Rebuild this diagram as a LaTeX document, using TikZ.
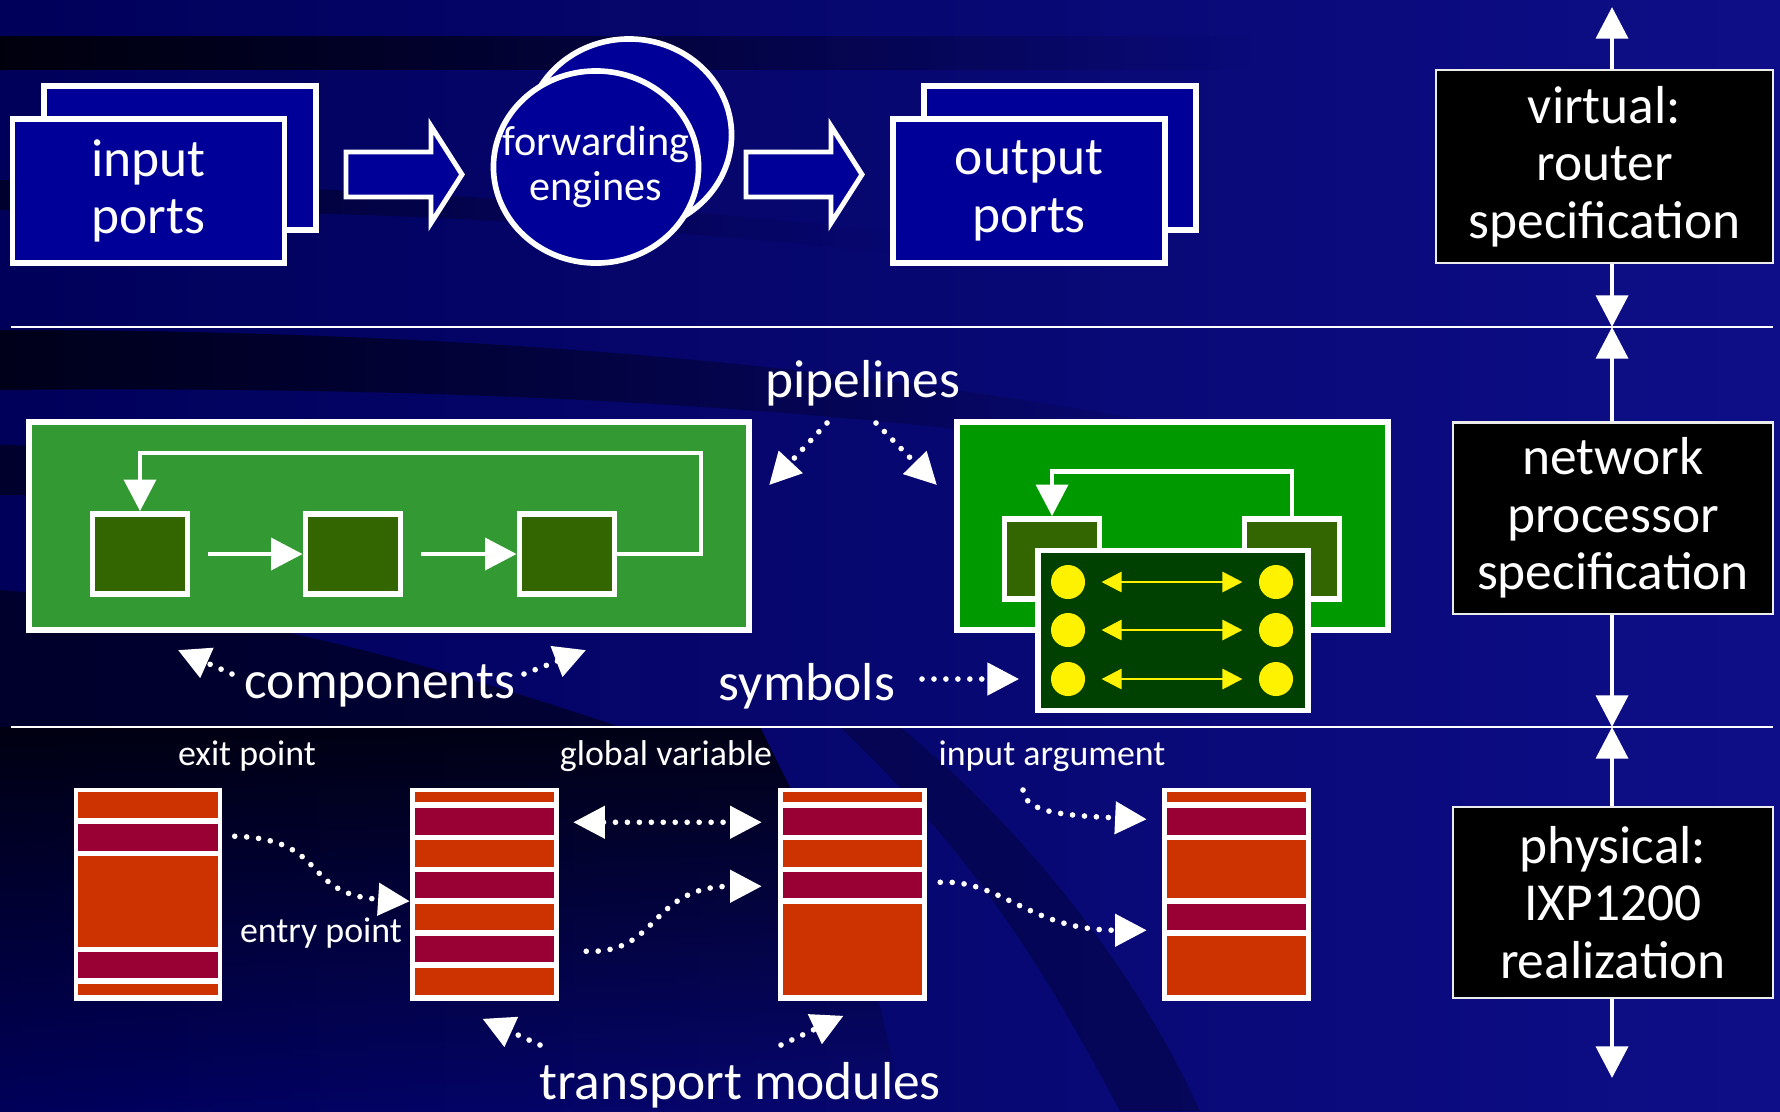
\documentclass[tikz,border=0pt]{standalone}
\usepackage{fontspec}
\setmainfont{Carlito}
\usetikzlibrary{arrows.meta,shapes.geometric,fadings}

\definecolor{fundo}{HTML}{00005A}
\definecolor{fundoclaro}{HTML}{0E0E88}
\definecolor{azulporta}{HTML}{000099}
\definecolor{verdepipe}{HTML}{339933}
\definecolor{verdepipeb}{HTML}{009900}
\definecolor{verdeest}{HTML}{336600}
\definecolor{verdesimb}{HTML}{004000}
\definecolor{laranja}{HTML}{CC3300}
\definecolor{carmim}{HTML}{990033}

\newcommand\fonteg{\fontsize{15.2}{16.3}\selectfont}
\newcommand\fontem{\fontsize{12}{12.8}\selectfont}
\newcommand\fontep{\fontsize{10.2}{12}\selectfont}

% listras de um modulo (topo/base/cor, medidas a partir do topo)
\newcommand\listras[2]{%
  \foreach \ya/\yb/\cor in {#2}
    \fill[fill=\cor] ([shift={(5,\ya)}]#1.north west) rectangle ([shift={(-5,\yb)}]#1.north east);}

\begin{document}
\begin{tikzpicture}[x=0.01cm, y=-0.01cm, >={Triangle[length=9pt,width=9pt]},
    caixa/.style={draw=white, line width=1.6pt, fill=azulporta, minimum width=2.72cm, minimum height=1.44cm},
    motor/.style={ellipse, draw=white, line width=1.6pt, fill=azulporta, minimum width=2.05cm, minimum height=1.92cm},
    nivel/.style={draw=white!85!gray, line width=0.6pt, fill=black, text=white, font=\fonteg, align=center, minimum width=3.2cm, minimum height=1.91cm},
    rotulo/.style={text=white, font=\fonteg, align=center, inner sep=0pt},
    rotulop/.style={text=white, font=\fontep, inner sep=0pt},
    pipe/.style={draw=white, line width=1.7pt, minimum height=2.08cm},
    estagio/.style={draw=white, line width=1.6pt, fill=verdeest, minimum width=0.95cm, minimum height=0.80cm},
    ponto/.style={circle, fill=yellow, minimum size=0.34cm, inner sep=0pt},
    modulo/.style={fill=white, minimum width=1.48cm, minimum height=2.13cm, inner sep=0pt},
    fluxo/.style={white, line width=1.4pt, ->},
    eixo/.style={white, line width=1.4pt, ->},
    pontilhado/.style={white, line width=1.6pt, line cap=round, dash pattern=on 0pt off 3.4pt, ->},
    amarela/.style={yellow, line width=0.8pt, {Triangle[length=5.7pt,width=5.7pt]}-{Triangle[length=5.7pt,width=5.7pt]}, shorten <=4.5pt, shorten >=4.5pt},
    seta/.pic={\draw[white, line width=1.4pt, fill=azulporta] (0,-22.5) -- (85,-22.5) -- (85,-48.5) -- (116,0) -- (85,48.5) -- (85,22.5) -- (0,22.5) -- cycle;}
  ]
  % fundo
  \useasboundingbox (0,0) rectangle (1780,1111);
  \shade[left color=fundo, right color=fundoclaro] (0,0) rectangle (1780,1111);
  \fill[black, opacity=.85, path fading=east] (0,36) rectangle (1250,70);
  \fill[black, opacity=.5, path fading=east] (0,180) .. controls (300,185) and (600,200) .. (900,232) -- (900,255) .. controls (600,220) and (300,208) .. (0,210) -- cycle;
  \fill[black, opacity=.7, path fading=east] (0,330) .. controls (500,330) and (900,370) .. (1250,440) -- (1250,470) .. controls (900,410) and (500,385) .. (0,390) -- cycle;
  \fill[black, opacity=.5, path fading=east] (0,445) .. controls (300,450) and (500,470) .. (700,520) -- (700,560) .. controls (500,500) and (300,495) .. (0,495) -- cycle;
  \fill[black, opacity=.5] (0,590) .. controls (250,610) and (450,670) .. (620,727) -- (0,727) -- cycle;
  \fill[black, opacity=.8, path fading=south] (0,727) -- (760,727) .. controls (820,850) and (880,950) .. (900,1111) -- (0,1111) -- cycle;
  \fill[black, opacity=.25] (900,727) .. controls (1050,850) and (1150,1000) .. (1200,1111) -- (1120,1111) .. controls (1050,980) and (980,860) .. (840,727) -- cycle;
  \draw[white, line width=0.7pt] (11,327) -- (1773,327);
  \draw[white, line width=0.7pt] (11,727) -- (1773,727);

  % camada virtual: roteador
  \node at (180,158) (inback) [caixa] {};
  \node at (148.5,191) (infront) [caixa, rotulo] {input\\ports};
  \pic at (346,174.5) {seta};
  \node at (629,135) (fwdback) [motor] {};
  \node at (596,167) (fwd) [motor] {};
  \node at (fwd) (fwdtxt) [rotulo, font=\fontem] {forwarding\\engines};
  \pic at (746,174.5) {seta};
  \node at (1060,158) (outback) [caixa] {};
  \node at (1029,191) (outfront) [caixa, rotulo] {output\\ports};

  % niveis e eixo vertical
  \node at (1604.5,166.5) (virt) [nivel, minimum width=3.37cm, minimum height=1.93cm] {virtual:\\router\\specification};
  \node at (1613,518) (np) [nivel] {network\\processor\\specification};
  \node at (1613,902.5) (phys) [nivel] {physical:\\IXP1200\\realization};
  \coordinate (ax0) at (1612,7);
  \coordinate (ax1) at (1612,327);
  \coordinate (ax2) at (1612,727);
  \coordinate (ax3) at (1612,1078);
  \draw[eixo] (virt.north -| ax0) -- (ax0);
  \draw[eixo] (virt.south -| ax0) -- (ax1);
  \draw[eixo] (np.north -| ax1) -- (ax1);
  \draw[eixo] (np.south -| ax1) -- (ax2);
  \draw[eixo] (phys.north -| ax2) -- (ax2);
  \draw[eixo] (phys.south -| ax3) -- (ax3);

  % camada do processador de rede
  \node at (389,526) (pipe1) [pipe, fill=verdepipe, minimum width=7.2cm] {};
  \node at (140,554) (s1) [estagio] {};
  \node at (353,554) (s2) [estagio] {};
  \node at (567,554) (s3) [estagio] {};
  \draw[fluxo, shorten <=5pt] (s1) -- (s2);
  \draw[fluxo, shorten <=5pt] (s2) -- (s3);
  \draw[fluxo] (s3.east) -| (701,453) -| (s1.north);

  \node at (1172.5,526) (pipe2) [pipe, fill=verdepipeb, minimum width=4.31cm] {};
  \node at (1052,559) (t1) [estagio] {};
  \node at (1292,559) (t2) [estagio] {};
  \draw[fluxo] (t2.north) -- ++(0,-45) -| (t1.north);
  \node at (1173,630.5) (simb) [draw=white, line width=1.6pt, fill=verdesimb, minimum width=2.7cm, minimum height=1.6cm] {};
  \foreach \i/\y in {1/582, 2/630, 3/679} {
    \node at (1068,\y) (pe\i) [ponto] {};
    \node at (1276,\y) (pd\i) [ponto] {};
    \draw[amarela] (pe\i) -- (pd\i);
  }

  \node at (863,383) (pipelab) [rotulo] {pipelines};
  \draw[pontilhado] ([shift={(-36,40)}]pipelab.center) -- ([shift={(17,-41)}]pipe1.east);
  \draw[pontilhado] ([shift={(13,40)}]pipelab.center) -- ([shift={(-17,-41)}]pipe2.west);
  \node at (380,686) (complab) [rotulo] {components};
  \draw[pontilhado] ([shift={(-148,-12)}]complab.center) -- ([shift={(-211,17)}]pipe1.south);
  \draw[pontilhado] ([shift={(144,-12)}]complab.center) -- ([shift={(197,17)}]pipe1.south);
  \node at (807,686) (simblab) [rotulo] {symbols};
  \draw[pontilhado] ([shift={(115,-7)}]simblab.center) -- ([shift={(-16,48.5)}]simb.west);

  % camada fisica: IXP1200
  \node at (247,756) (exitlab) [rotulop] {exit point};
  \node at (666,756) (globlab) [rotulop] {global variable};
  \node at (1052,756) (arglab) [rotulop] {input argument};
  \node at (321,933) (entrylab) [rotulop] {entry point};

  \node at (148,894.5) (m1) [modulo] {};
  \node at (484.5,894.5) (m2) [modulo] {};
  \node at (852.5,894.5) (m3) [modulo] {};
  \node at (1236.5,894.5) (m4) [modulo] {};
  \listras{m1}{5/31/laranja, 37/64/carmim, 69/160/laranja, 165/191/carmim, 197/208/laranja}
  \listras{m2}{5/15/laranja, 21/48/carmim, 53/80/laranja, 85/111/carmim, 117/143/laranja, 149/175/carmim, 181/208/laranja}
  \listras{m3}{5/15/laranja, 21/48/carmim, 53/80/laranja, 85/111/carmim, 117/208/laranja}
  \listras{m4}{5/15/laranja, 21/48/carmim, 53/111/laranja, 117/143/carmim, 149/208/laranja}

  \draw[pontilhado] ([shift={(12,49)}]m1.north east) .. controls +(96,3) and +(-110,-7) .. ([shift={(0,114)}]m2.north west);
  \draw[pontilhado, <->] ([shift={(14,35)}]m2.north east) -- ([shift={(-16,35)}]m3.north west);
  \draw[pontilhado] ([shift={(27,164)}]m2.north east) .. controls +(74,3) and +(-113,0) .. ([shift={(-16,99)}]m3.north west);
  \draw[pontilhado] ([shift={(-29,34)}]arglab.center) .. controls +(2,22) and +(-87,-4) .. ([shift={(-15,32)}]m4.north west);
  \draw[pontilhado] ([shift={(13,95)}]m3.north east) .. controls +(61,-3) and +(-117,0) .. ([shift={(-15,143)}]m4.north west);

  \node at (740,1085) (translab) [rotulo] {transport modules};
  \draw[pontilhado] ([shift={(-200,-40)}]translab.center) -- ([shift={(-2,17)}]m2.south);
  \draw[pontilhado] ([shift={(41,-40)}]translab.center) -- ([shift={(-9,14)}]m3.south);
\end{tikzpicture}
\end{document}
